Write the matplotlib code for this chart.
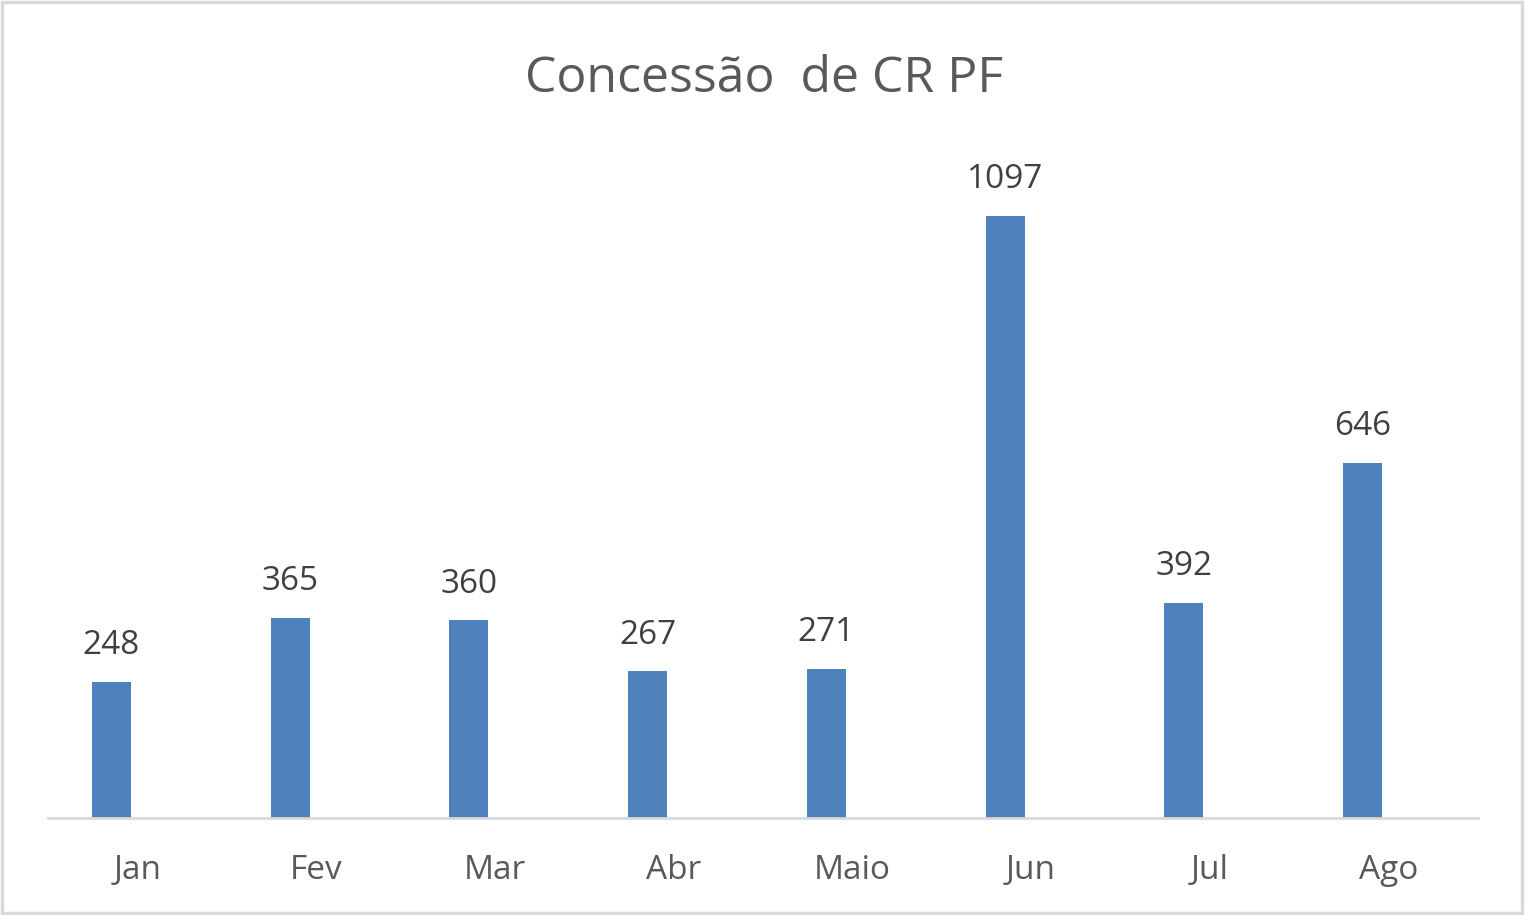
import numpy as np
import matplotlib
matplotlib.use('Agg')
import matplotlib.pyplot as plt
from matplotlib.patches import Rectangle

plt.rcParams['font.family'] = ['Open Sans', 'DejaVu Sans']

meses = ['Jan', 'Fev', 'Mar', 'Abr', 'Maio', 'Jun', 'Jul', 'Ago']
concessoes = [248, 365, 360, 267, 271, 1097, 392, 646]

fig = plt.figure(figsize=(15.25, 9.15), dpi=100)
ax = fig.add_axes([48 / 1525, 97 / 915, 1430 / 1525, 659 / 915])

x = np.arange(len(meses))
# bars sit left of the category centre, like an Excel cluster with an empty series
ax.bar(x - 0.145, concessoes, width=0.218, color='#4f81bd')

for xi, v in zip(x, concessoes):
    ax.annotate(str(v), (xi - 0.145, v), xytext=(0, 20), textcoords='offset points',
                ha='center', va='baseline', fontsize=24, color='#404040')

ax.set_xlim(-0.5, len(meses) - 0.5)
ax.set_ylim(0, 1200)
ax.set_xticks(x)
ax.set_xticklabels(meses, fontsize=24, color='#595959')
ax.tick_params(axis='x', length=0, pad=26)
ax.set_yticks([])
for s in ['top', 'right', 'left']:
    ax.spines[s].set_visible(False)
ax.spines['bottom'].set_color('#d9d9d9')
ax.spines['bottom'].set_linewidth(2)

fig.text(764 / 1525, 1 - 92 / 915, 'Concessão  de CR PF', ha='center', va='baseline',
         fontsize=36, color='#595959')

# light grey frame round the whole chart
fig.patches.append(Rectangle((0.001, 0.002), 0.997, 0.996, transform=fig.transFigure,
                             fill=False, edgecolor='#d9d9d9', linewidth=2.5))

fig.savefig('out.png', dpi=100)
